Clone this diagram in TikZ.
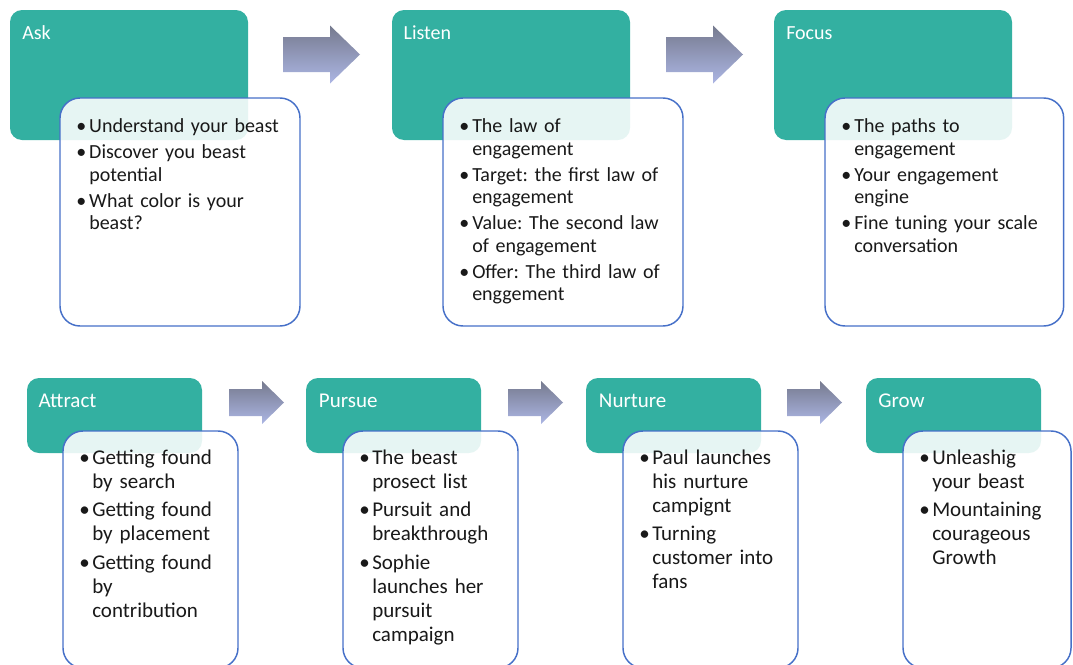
\documentclass[tikz,border=0pt]{standalone}
\usepackage{fontspec}
\setmainfont{Carlito}
\frenchspacing

\definecolor{headteal}{RGB}{51,176,161}
\definecolor{cardedge}{RGB}{70,112,200}
\definecolor{arrowdark}{RGB}{118,122,142}
\definecolor{arrowlight}{RGB}{172,182,228}
\definecolor{listink}{RGB}{25,25,25}

% one bullet point with a hanging indent; \nl forces a line break inside it
\newcommand\bul[1]{\par\hangindent=9.75pt\hangafter=1\noindent\strut\makebox[9.75pt][l]{\textbullet}#1\par}
\newcommand\nl{\hfil\break}

\tikzset{
  head/.style={fill=headteal, rounded corners=9pt, anchor=north west,
    inner sep=0pt, outer sep=0pt},
  card/.style={draw=cardedge, line width=1.1pt, fill=white, fill opacity=0.88,
    rounded corners=15pt, anchor=north west, inner sep=0pt, outer sep=0pt},
  headtext/.style={anchor=base west, inner sep=0pt, text=white,
    font=\fontsize{15}{18}\selectfont},
  toplist/.style={anchor=north west, inner sep=0pt, text width=170pt, align=left,
    text=listink, font={\fontsize{15}{16.9}\selectfont\setlength\parskip{2.6pt}\frenchspacing}},
  botlist/.style={anchor=north west, inner sep=0pt, text width=125pt, align=left,
    text=listink, font={\fontsize{15.75}{18}\selectfont\setlength\parskip{3.4pt}\frenchspacing}},
  arrowfill/.style={top color=arrowdark, bottom color=arrowlight, draw=none},
  pics/bigarrow/.style={code={
    \path[arrowfill] (0,-17.5) -- (47,-17.5) -- (47,-29) -- (77,0)
      -- (47,29) -- (47,17.5) -- (0,17.5) -- cycle;}},
  pics/smallarrow/.style={code={
    \path[arrowfill] (0,-13.5) -- (33,-13.5) -- (33,-21.5) -- (55,0)
      -- (33,21.5) -- (33,13.5) -- (0,13.5) -- cycle;}},
}

\begin{document}
\begin{tikzpicture}[x=0.75pt,y=-0.75pt]
\useasboundingbox (0,0) rectangle (1073,664);
\clip (0,0) rectangle (1073,664);

% ---------- upper row ----------
\node[head, minimum width=178.5pt, minimum height=97.5pt] (ask) at (10,10) {};
\node[head, minimum width=178.5pt, minimum height=97.5pt] (listen) at (392,10) {};
\node[head, minimum width=178.5pt, minimum height=97.5pt] (focus) at (774,10) {};

\node[headtext] (asktitle) at ([xshift=9pt,yshift=-21.75pt]ask.north west) {Ask};
\node[headtext] (listentitle) at ([xshift=8.5pt,yshift=-21.75pt]listen.north west) {Listen};
\node[headtext] (focustitle) at ([xshift=9pt,yshift=-21.75pt]focus.north west) {Focus};

\node[card, minimum width=180pt, minimum height=171pt] (askcard) at (60,98) {};
\node[card, minimum width=180pt, minimum height=171pt] (listencard) at (443,98) {};
\node[card, minimum width=179pt, minimum height=171pt] (focuscard) at (825,98) {};

\node[toplist] (asklist) at ([xshift=12pt,yshift=-6.2pt]askcard.north west) {%
  \bul{Understand your beast}
  \bul{Discover you beast\nl potential}
  \bul{What color is your\nl beast?}};
\node[toplist] (listenlist) at ([xshift=12pt,yshift=-6.2pt]listencard.north west) {%
  \bul{The law of\nl engagement}
  \bul{Target: the first law of\nl engagement}
  \bul{Value: The second law\nl of engagement}
  \bul{Offer: The third law of\nl enggement}};
\node[toplist] (focuslist) at ([xshift=12pt,yshift=-6.2pt]focuscard.north west) {%
  \bul{The paths to\nl engagement}
  \bul{Your engagement\nl engine}
  \bul{Fine tuning your scale\nl conversation}};

\pic (arrowA) at (283,54.5) {bigarrow};
\pic (arrowB) at (666,54.5) {bigarrow};

% ---------- lower row ----------
\node[head, minimum width=131.25pt, minimum height=56.25pt] (attract) at (27,378) {};
\node[head, minimum width=131.25pt, minimum height=56.25pt] (pursue) at (306,378) {};
\node[head, minimum width=131.25pt, minimum height=56.25pt] (nurture) at (586,378) {};
\node[head, minimum width=131.25pt, minimum height=56.25pt] (grow) at (866,378) {};

\node[headtext, font=\fontsize{15.75}{18}\selectfont] (attracttitle) at ([xshift=8.5pt,yshift=-21.75pt]attract.north west) {Attract};
\node[headtext, font=\fontsize{15.75}{18}\selectfont] (pursuetitle) at ([xshift=9.5pt,yshift=-21.75pt]pursue.north west) {Pursue};
\node[headtext, font=\fontsize{15.75}{18}\selectfont] (nurturetitle) at ([xshift=9.5pt,yshift=-21.75pt]nurture.north west) {Nurture};
\node[headtext, font=\fontsize{15.75}{18}\selectfont] (growtitle) at ([xshift=9pt,yshift=-21.75pt]grow.north west) {Grow};

\node[card, minimum width=131.25pt, minimum height=177.75pt] (attractcard) at (63,431) {};
\node[card, minimum width=131.25pt, minimum height=177.75pt] (pursuecard) at (343,431) {};
\node[card, minimum width=131.25pt, minimum height=177.75pt] (nurturecard) at (623,431) {};
\node[card, minimum width=126pt, minimum height=177.75pt] (growcard) at (903,431) {};

\node[botlist] (attractlist) at ([xshift=12pt,yshift=-3.2pt]attractcard.north west) {%
  \bul{Getting found\nl by search}
  \bul{Getting found\nl by placement}
  \bul{Getting found\nl by\nl contribution}};
\node[botlist] (pursuelist) at ([xshift=12pt,yshift=-3.2pt]pursuecard.north west) {%
  \bul{The beast\nl prosect list}
  \bul{Pursuit and\nl breakthrough}
  \bul{Sophie\nl launches her\nl pursuit\nl campaign}};
\node[botlist] (nurturelist) at ([xshift=12pt,yshift=-3.2pt]nurturecard.north west) {%
  \bul{Paul launches\nl his nurture\nl campignt}
  \bul{Turning\nl customer into\nl fans}};
\node[botlist] (growlist) at ([xshift=12pt,yshift=-3.2pt]growcard.north west) {%
  \bul{Unleashig\nl your beast}
  \bul{Mountaining\nl courageous\nl Growth}};

\pic (arrowC) at (229,402.5) {smallarrow};
\pic (arrowD) at (508,402.5) {smallarrow};
\pic (arrowE) at (787,402.5) {smallarrow};
\end{tikzpicture}
\end{document}
